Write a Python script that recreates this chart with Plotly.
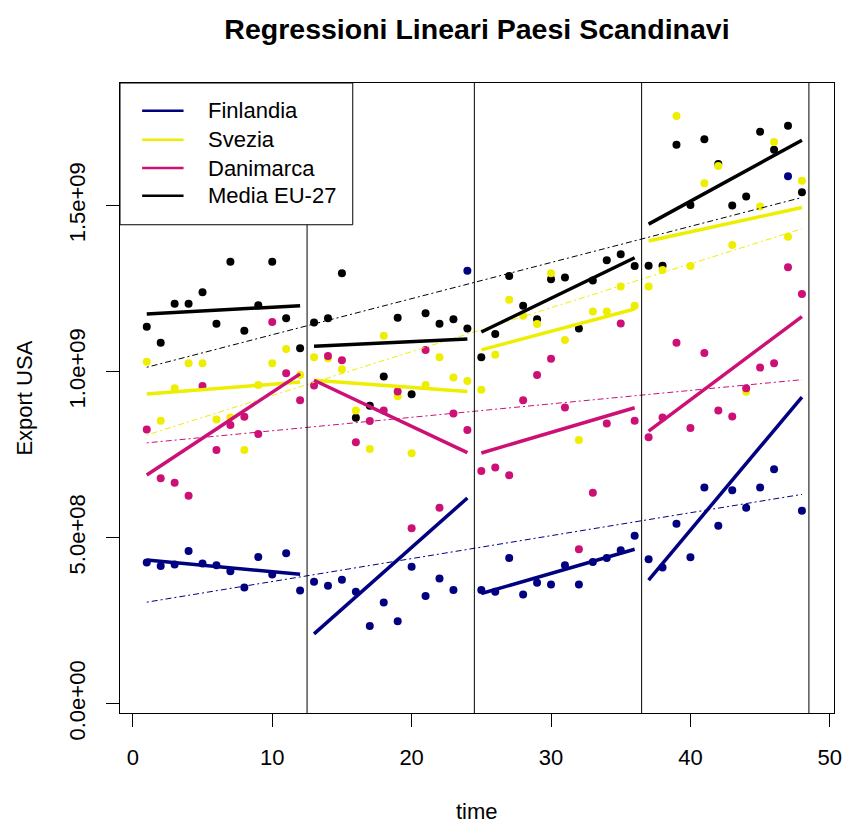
import numpy as np
import plotly.graph_objects as go

# Quarterly exports to the USA (millions of USD), four 12-quarter periods
time = list(range(1, 49))

finlandia_mln = [425, 415, 419, 460, 422, 417, 399, 350, 442, 389, 453, 341,
                 367, 355, 373, 337, 234, 305, 248, 412, 324, 377, 342, 1304,
                 342, 337, 439, 329, 364, 359, 417, 359, 427, 439, 462, 506,
                 435, 410, 542, 441, 651, 536, 643, 590, 651, 706, 1588, 581]

svezia_mln = [1030, 852, 950, 1025, 1025, 856, 862, 764, 960, 1025, 1068, 990,
              1043, 1040, 1007, 883, 767, 1108, 926, 754, 960, 1043, 982, 972,
              945, 1051, 1216, 1168, 1143, 1296, 1095, 794, 1181, 1181, 1256, 1198,
              1256, 1306, 1770, 1318, 1567, 1619, 1381, 939, 1497, 1691, 1406, 1575]

danimarca_mln = [826, 679, 665, 626, 957, 764, 839, 864, 812, 1149, 995, 914,
                 958, 1047, 1034, 787, 851, 883, 940, 528, 1065, 590, 874, 824,
                 701, 711, 688, 914, 990, 1039, 892, 465, 635, 844, 1145, 852,
                 802, 862, 1087, 830, 1056, 883, 865, 950, 1012, 1025, 1314, 1234]

media_eu27_mln = [1135, 1087, 1204, 1204, 1239, 1144, 1331, 1123, 1200, 1331, 1161, 1070,
                  1148, 1161, 1296, 861, 897, 985, 1162, 932, 1176, 1144, 1158, 1130,
                  1043, 1113, 1288, 1198, 1158, 1278, 1283, 1130, 1274, 1335, 1353, 1318,
                  1319, 1319, 1683, 1502, 1700, 1625, 1500, 1527, 1722, 1668, 1740, 1540]

series_names = ["Finlandia", "Svezia", "Danimarca", "Media EU-27"]
series_values = [finlandia_mln, svezia_mln, danimarca_mln, media_eu27_mln]
series_colors = ["#000080", "#EEEE00", "#CD1076", "#000000"]

period_breaks = [12.5, 24.5, 36.5, 48.5]
period_len = 12

x_ticks = [0, 10, 20, 30, 40, 50]
y_ticks = [0, 5e8, 1e9, 1.5e9]
y_tick_text = ["0.0e+00", "5.0e+08", "1.0e+09", "1.5e+09"]

FONT = "Liberation Sans, Arial, sans-serif"

t = np.array(time, dtype=float)
fig = go.Figure()

# scatter points (EU average first so the national series sit on top)
draw_order = [3, 0, 1, 2]
for i in draw_order:
    y = np.array(series_values[i], dtype=float) * 1e6
    fig.add_trace(go.Scatter(x=t, y=y, mode="markers",
                             marker=dict(color=series_colors[i], size=8, line=dict(width=0)),
                             showlegend=False, hoverinfo="skip"))

# whole-period linear trend (thin dash-dot) and per-period trends (thick)
for i in draw_order:
    y = np.array(series_values[i], dtype=float) * 1e6
    b, a = np.polyfit(t, y, 1)
    fig.add_trace(go.Scatter(x=t, y=a + b * t, mode="lines",
                             line=dict(color=series_colors[i], width=1, dash="2px,3px,6px,3px"),
                             showlegend=False, hoverinfo="skip"))
for i in draw_order:
    y = np.array(series_values[i], dtype=float) * 1e6
    for k in range(0, len(t), period_len):
        ts, ys = t[k:k + period_len], y[k:k + period_len]
        b, a = np.polyfit(ts, ys, 1)
        fig.add_trace(go.Scatter(x=ts, y=a + b * ts, mode="lines",
                                 line=dict(color=series_colors[i], width=3.5),
                                 showlegend=False, hoverinfo="skip"))

# period separators
for xb in period_breaks:
    fig.add_shape(type="line", xref="x", yref="paper", x0=xb, x1=xb, y0=0, y1=1,
                  line=dict(color="black", width=1))

# legend box in the upper-left corner
fig.add_shape(type="rect", xref="paper", yref="paper", x0=0, x1=0.326, y0=0.775, y1=1,
              line=dict(color="black", width=1), fillcolor="white", layer="above")
legend_y = [0.956, 0.910, 0.865, 0.821]
for name, col, ly in zip(series_names, series_colors, legend_y):
    fig.add_shape(type="line", xref="paper", yref="paper", x0=0.031, x1=0.089, y0=ly, y1=ly,
                  line=dict(color=col, width=2.5), layer="above")
    fig.add_annotation(xref="paper", yref="paper", x=0.120, y=ly, text=name, showarrow=False,
                       xanchor="left", yanchor="middle", font=dict(family=FONT, size=22, color="black"))

# axis titles
fig.add_annotation(xref="paper", yref="paper", x=0.5, y=-0.157, text="time", showarrow=False,
                   xanchor="center", yanchor="middle", font=dict(family=FONT, size=22, color="black"))
fig.add_annotation(xref="paper", yref="paper", x=-0.135, y=0.5, text="Export USA", showarrow=False,
                   textangle=-90, xanchor="center", yanchor="middle",
                   font=dict(family=FONT, size=22, color="black"))

fig.update_layout(
    width=843, height=823,
    margin=dict(l=120, r=9, t=83, b=110),
    paper_bgcolor="white", plot_bgcolor="white",
    title=dict(text="Regressioni Lineari Paesi Scandinavi", x=0.5, xref="paper",
               y=1 - 29 / 823, yanchor="middle", xanchor="center",
               font=dict(family=FONT, size=28.5, color="black", weight="bold")),
    font=dict(family=FONT, size=22, color="black"),
    showlegend=False,
)
fig.update_xaxes(range=[-0.92, 50.3], tickvals=x_ticks, ticks="outside", ticklen=13,
                 tickcolor="black", showgrid=False, zeroline=False, showline=True,
                 linecolor="black", linewidth=1, mirror=True, ticklabelstandoff=12,
                 automargin=False, tickfont=dict(family=FONT, size=22, color="black"))
fig.update_yaxes(range=[-0.028e9, 1.869e9], tickvals=y_ticks, ticktext=y_tick_text,
                 ticks="outside", ticklen=13, tickcolor="black", showgrid=False, zeroline=False,
                 showline=True, linecolor="black", linewidth=1, mirror=True, tickangle=-90,
                 ticklabelstandoff=12, automargin=False,
                 tickfont=dict(family=FONT, size=22, color="black"))

fig.write_html("out.html")
